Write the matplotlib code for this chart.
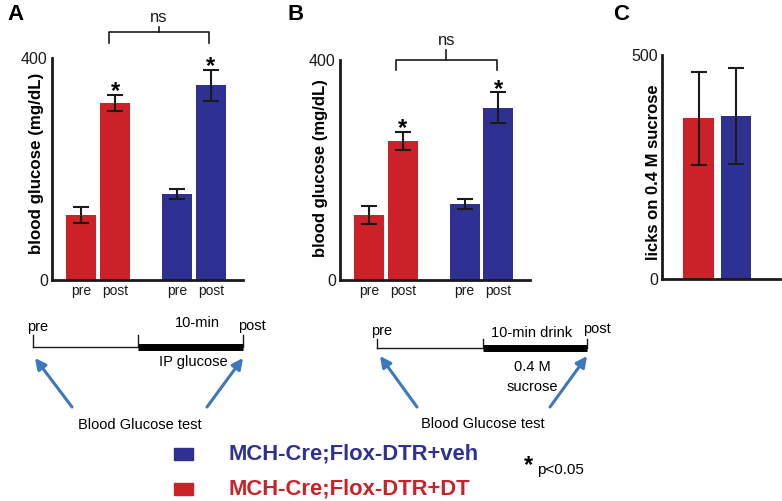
import numpy as np
import matplotlib
matplotlib.use("Agg")
import matplotlib.pyplot as plt

plt.rcParams['font.family'] = ['Liberation Sans', 'DejaVu Sans']

# data
bar_labels = ["pre", "post", "pre", "post"]
glucose_ip = [117, 319, 155, 351]        # panel A (mg/dL)
glucose_ip_err = [15, 15, 9, 28]
glucose_drink = [118, 253, 138, 313]     # panel B (mg/dL)
glucose_drink_err = [16, 17, 9, 28]
licks = [359, 364]                       # panel C
licks_err = [104, 107]
star_bars = [1, 3]

RED = "#CB2128"
BLUE = "#2E3192"
ARROW = "#3D78BC"
INK = "#1a1a1a"
bar_colors = [RED, RED, BLUE, BLUE]

W, H = 782, 501
fig = plt.figure(figsize=(W / 100, H / 100), dpi=100)


def P(x, y):
    return x / W, 1 - y / H


def make_axes(left, right, top, bottom):
    return fig.add_axes([left / W, 1 - bottom / H, (right - left) / W, (bottom - top) / H])


def style_axes(ax, ymax, xmax):
    ax.set_ylim(0, ymax)
    ax.set_xlim(0, xmax)
    for s in ["top", "right"]:
        ax.spines[s].set_visible(False)
    for s in ["left", "bottom"]:
        ax.spines[s].set_linewidth(2)
        ax.spines[s].set_color(INK)
    ax.set_yticks([0, ymax])
    ax.set_yticklabels(["0", str(ymax)], fontsize=11.5)
    ax.tick_params(axis="both", length=0, pad=3, colors=INK)
    ax.patch.set_alpha(0)


def glucose_panel(ax, vals, errs, br_y, br_drop, br_tick):
    xpos = [0.95, 2.07, 4.1, 5.2]
    ax.bar(xpos, vals, width=0.98, color=bar_colors, zorder=2)
    ax.errorbar(xpos, vals, yerr=errs, fmt="none", ecolor=INK, elinewidth=1.5,
                capsize=6, capthick=1.5, zorder=3)
    style_axes(ax, 400, 6.25)
    ax.set_xticks(xpos)
    ax.set_xticklabels(bar_labels, fontsize=10)
    for i in star_bars:
        ax.annotate("*", xy=(xpos[i], vals[i] + errs[i]), xytext=(0, -6),
                    textcoords="offset points", ha="center", va="bottom",
                    fontsize=17, fontweight="bold", annotation_clip=False)
    x0, x1 = xpos[1] - 0.22, xpos[3] - 0.05
    xm = (x0 + x1) / 2
    ax.plot([x0, x0, x1, x1], [br_y - br_drop, br_y, br_y, br_y - br_drop],
            color=INK, lw=1.2, clip_on=False)
    ax.plot([xm, xm], [br_y, br_y + br_tick], color=INK, lw=1.2, clip_on=False)
    ax.text(xm, br_y + br_tick + 4, "ns", ha="center", va="bottom", fontsize=12,
            color=INK, clip_on=False)


# panel A
axA = make_axes(52, 243, 58, 280)
glucose_panel(axA, glucose_ip, glucose_ip_err, 447, 20, 9)
# panel B
axB = make_axes(340, 530, 60, 280)
glucose_panel(axB, glucose_drink, glucose_drink_err, 400, 18, 18)

# panel C
axC = make_axes(662, 780, 55, 279)
xc = [1.2, 2.43]
axC.bar(xc, licks, width=1.0, color=[RED, BLUE], zorder=2)
axC.errorbar(xc, licks, yerr=licks_err, fmt="none", ecolor=INK, elinewidth=1.5,
             capsize=6, capthick=1.5, zorder=3)
style_axes(axC, 500, 3.87)
axC.set_xticks([])

# axis titles and panel letters
ylab = dict(rotation=90, ha="center", va="center", fontweight="bold", color="black")
fig.text(*P(37, 163), "blood glucose (mg/dL)", fontsize=12.2, **ylab)
fig.text(*P(321, 168), "blood glucose (mg/dL)", fontsize=12, **ylab)
fig.text(*P(653, 172), "licks on 0.4 M sucrose", fontsize=12, **ylab)
for letter, (x, y) in zip("ABC", [(15, 15), (296, 15), (621, 15)]):
    fig.text(*P(x, y), letter, fontsize=16, fontweight="bold", ha="center", va="center")

# timeline schematics (overlay in pixel coordinates)
ov = fig.add_axes([0, 0, 1, 1], zorder=-1)
ov.set_xlim(0, W)
ov.set_ylim(H, 0)
ov.axis("off")


def timeline(x0, x1, x2, y, ytop, tails, heads):
    ov.plot([x0, x1], [y, y], color=INK, lw=1)
    ov.plot([x1, x2], [y, y], color="black", lw=5, solid_capstyle="butt")
    for xx in (x0, x1, x2):
        ov.plot([xx, xx], [ytop, y], color=INK, lw=1)
    for t, h in zip(tails, heads):
        ov.annotate("", xy=h, xytext=t,
                    arrowprops=dict(arrowstyle="-|>", color=ARROW, lw=2.2,
                                    mutation_scale=16, shrinkA=0, shrinkB=0))


timeline(33, 138, 243, 347, 335, [(72, 407), (207, 407)], [(35, 358), (243, 358)])
ov.text(38, 327, "pre", fontsize=10.5, ha="center", va="center")
ov.text(197, 323, "10-min", fontsize=10.5, ha="center", va="center")
ov.text(252, 326, "post", fontsize=10.5, ha="center", va="center")
ov.text(193, 362, "IP glucose", fontsize=10.5, ha="center", va="center")
ov.text(140, 425, "Blood Glucose test", fontsize=10.5, ha="center", va="center")

timeline(377, 483, 587, 348, 339, [(417, 407), (550, 407)], [(380, 356), (587, 356)])
ov.text(382, 331, "pre", fontsize=10.5, ha="center", va="center")
ov.text(532, 333, "10-min drink", fontsize=10.5, ha="center", va="center")
ov.text(597, 329, "post", fontsize=10.5, ha="center", va="center")
ov.text(532, 367, "0.4 M", fontsize=10.5, ha="center", va="center")
ov.text(532, 387, "sucrose", fontsize=10.5, ha="center", va="center")
ov.text(483, 424, "Blood Glucose test", fontsize=10.5, ha="center", va="center")

# legend
legend_items = [("MCH-Cre;Flox-DTR+veh", BLUE), ("MCH-Cre;Flox-DTR+DT", RED)]
for (label, col), y in zip(legend_items, [454, 489]):
    ov.add_patch(plt.Rectangle((174, y - 6), 19, 12, color=col))
    ov.text(228, y, label, color=col, fontsize=15.8, fontweight="bold",
            ha="left", va="center")
ov.text(528, 466, "*", fontsize=17, fontweight="bold", ha="center", va="center")
ov.text(537, 470, "p<0.05", fontsize=11, ha="left", va="center")

fig.savefig("out.png", dpi=100)
